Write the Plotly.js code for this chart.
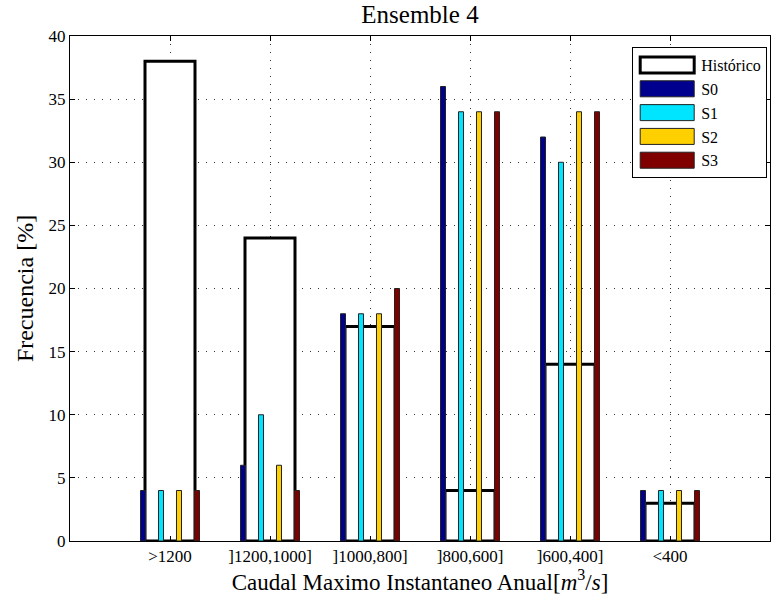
<!DOCTYPE html>
<html>
<head>
<meta charset="utf-8">
<script src="https://cdn.plot.ly/plotly-3.0.1.min.js"></script>
<style>
html,body{margin:0;padding:0;background:#fff;}
#chart{width:778px;height:602px;}
</style>
</head>
<body>
<div id="chart"></div>
<script>
const categories = [">1200", "]1200,1000]", "]1000,800]", "]800,600]", "]600,400]", "<400"];
const historico = [38, 24, 17, 4, 14, 3];
const s0 = [4, 6, 18, 36, 32, 4];
const s1 = [4, 10, 18, 34, 30, 4];
const s2 = [4, 6, 18, 34, 34, 4];
const s3 = [4, 4, 20, 34, 34, 4];
const seriesNames = ["S0", "S1", "S2", "S3"];
const seriesColors = ["#00008F", "#00E5FF", "#FFD000", "#800000"];
const seriesOffsets = [-0.295, -0.115, 0.065, 0.245];

const xpos = categories.map((c, i) => i + 1);
const serif = "Liberation Serif";

const traces = [{
  type: "bar", name: "Histórico", x: xpos, y: historico,
  width: 0.5, offset: -0.25,
  marker: {color: "#ffffff", line: {color: "#000000", width: 3}}
}];
[s0, s1, s2, s3].forEach((vals, k) => {
  traces.push({
    type: "bar", name: seriesNames[k], x: xpos, y: vals,
    width: 0.05, offset: seriesOffsets[k],
    marker: {color: seriesColors[k], line: {color: "#222222", width: 1}}
  });
});

const gridStyle = {showgrid: true, gridcolor: "#333", griddash: "1px,7px", gridwidth: 1};

const layout = {
  width: 778, height: 602,
  margin: {l: 70, r: 8, t: 36, b: 61},
  paper_bgcolor: "#ffffff", plot_bgcolor: "#ffffff",
  barmode: "overlay",
  font: {family: serif, size: 17, color: "#000"},
  title: {text: "Ensemble 4", font: {family: serif, size: 25, color: "#000"}, xref: "paper", x: 0.5, xanchor: "center", y: 0.976, yanchor: "middle"},
  xaxis: Object.assign({
    range: [0, 7], tickvals: xpos, ticktext: categories,
    ticks: "inside", ticklen: 5, tickcolor: "#000",
    showline: true, linecolor: "#000", linewidth: 1, mirror: "ticks",
    zeroline: false,
    tickfont: {family: serif, size: 17, color: "#000"},
    title: {text: "Caudal Maximo Instantaneo Anual[<i>m</i><sup>3</sup>/<i>s</i>]", font: {family: serif, size: 23}, standoff: 1}
  }, gridStyle),
  yaxis: Object.assign({
    range: [0, 40], dtick: 5,
    ticks: "inside", ticklen: 5, tickcolor: "#000",
    showline: true, linecolor: "#000", linewidth: 1, mirror: "ticks",
    zeroline: false,
    tickfont: {family: serif, size: 17, color: "#000"},
    title: {text: "Frecuencia [%]", font: {family: serif, size: 24}, standoff: 8}
  }, gridStyle),
  legend: {
    x: 0.996, y: 0.978, xanchor: "right", yanchor: "top",
    bgcolor: "#ffffff", bordercolor: "#000", borderwidth: 1,
    font: {family: serif, size: 16, color: "#000"}, tracegroupgap: 0, itemwidth: 58
  },
  showlegend: true
};

Plotly.newPlot("chart", traces, layout, {displayModeBar: false, staticPlot: true}).then(function (gd) {
  // widen the legend swatches to MATLAB-style rectangles
  gd.querySelectorAll(".legend .traces .legendpoints path").forEach(function (p) {
    const d = p.getAttribute("d");
    if (d && /H/.test(d)) p.setAttribute("d", "M27,8H-27V-8H27Z");
  });
});
</script>
</body>
</html>
